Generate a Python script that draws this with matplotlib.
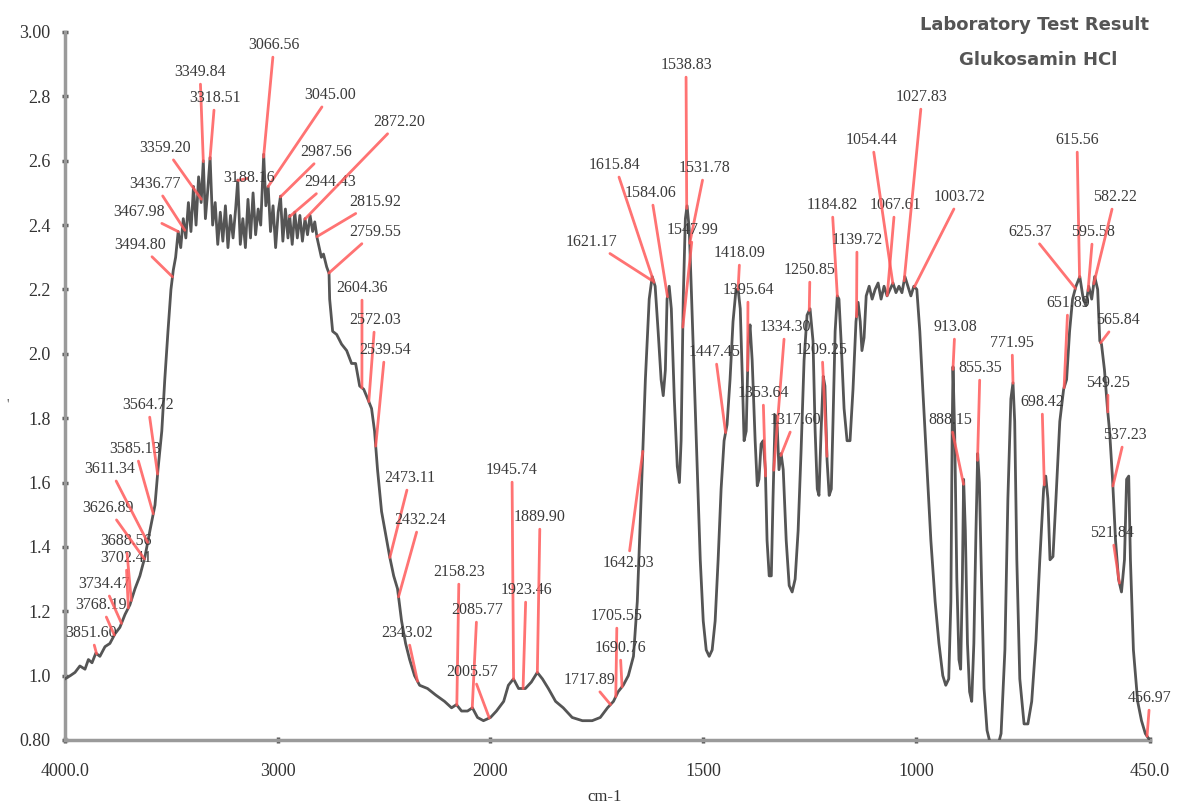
import numpy as np
import matplotlib
matplotlib.use("Agg")
import matplotlib.pyplot as plt

# IR spectrum of Glukosamin HCl
# region 4000 - 2760 cm-1 (O-H / N-H band, noisy plateau)
wn_high = [4000, 3975, 3953, 3930, 3906, 3890, 3873, 3855, 3836, 3812,
           3789, 3765, 3742, 3718, 3695, 3671, 3648, 3624, 3601, 3577,
           3563, 3545, 3531, 3516, 3502, 3491,
           3480, 3468, 3456, 3444, 3432, 3420, 3408, 3396, 3384, 3372,
           3360, 3350, 3340, 3330, 3318, 3306, 3294, 3282, 3270, 3258,
           3246, 3234, 3222, 3210, 3198, 3188, 3176, 3164, 3152, 3140,
           3128, 3116, 3104, 3092, 3080, 3066, 3056, 3045, 3034, 3022,
           3010, 2998, 2987, 2976, 2964, 2952, 2944, 2932, 2920, 2908,
           2896, 2884, 2872, 2860, 2848, 2836, 2826, 2815, 2805, 2795,
           2785, 2770, 2759]
ab_high = [0.99, 1.00, 1.01, 1.03, 1.02, 1.05, 1.04, 1.07, 1.06, 1.09,
           1.10, 1.13, 1.15, 1.19, 1.22, 1.27, 1.31, 1.37, 1.45, 1.53,
           1.64, 1.76, 1.92, 2.07, 2.20, 2.26,
           2.30, 2.38, 2.33, 2.42, 2.36, 2.47, 2.38, 2.52, 2.40, 2.55,
           2.47, 2.60, 2.42, 2.50, 2.61, 2.40, 2.47, 2.34, 2.44, 2.35,
           2.46, 2.33, 2.43, 2.36, 2.45, 2.54, 2.34, 2.42, 2.33, 2.48,
           2.36, 2.50, 2.37, 2.45, 2.40, 2.62, 2.46, 2.52, 2.38, 2.46,
           2.33, 2.44, 2.49, 2.35, 2.45, 2.36, 2.43, 2.34, 2.44, 2.36,
           2.43, 2.35, 2.42, 2.37, 2.43, 2.38, 2.41, 2.36, 2.33, 2.30,
           2.31, 2.27, 2.25]

# region 2760 - 1625 cm-1
wn_mid = [2756, 2742, 2723, 2700, 2676, 2653, 2634, 2615, 2596, 2577,
          2559, 2545, 2531, 2512, 2493, 2474, 2455, 2437, 2418, 2399,
          2380, 2357, 2333, 2296, 2258, 2216, 2183, 2160, 2136, 2108,
          2085, 2061, 2033, 2000, 1986, 1969, 1958, 1946, 1934, 1918,
          1904, 1890, 1878, 1864, 1847, 1829, 1808, 1784, 1761, 1742,
          1725, 1711, 1700, 1688, 1676, 1664, 1655, 1646, 1636, 1627]
ab_mid = [2.17, 2.07, 2.06, 2.03, 2.01, 1.97, 1.97, 1.90, 1.89, 1.86,
          1.83, 1.76, 1.64, 1.51, 1.44, 1.37, 1.31, 1.27, 1.17, 1.10,
          1.05, 1.00, 0.97, 0.96, 0.94, 0.92, 0.90, 0.91, 0.89, 0.89,
          0.90, 0.87, 0.86, 0.87, 0.89, 0.92, 0.97, 0.99, 0.96, 0.96,
          0.98, 1.01, 0.99, 0.96, 0.92, 0.90, 0.87, 0.86, 0.86, 0.87,
          0.90, 0.92, 0.95, 0.97, 1.00, 1.06, 1.23, 1.55, 1.92, 2.17]

# fingerprint region 1620 - 450 cm-1
wn_low = [1620, 1613, 1606, 1599, 1594, 1589, 1585, 1580, 1575, 1568,
          1561, 1556, 1552, 1547, 1542, 1538, 1533, 1528, 1521, 1514,
          1507, 1500, 1493, 1486, 1479, 1472, 1465, 1458, 1451, 1444,
          1437, 1430, 1423, 1418, 1413, 1408, 1404, 1399, 1394, 1390,
          1385, 1378, 1373, 1369, 1364, 1359, 1354, 1350, 1345, 1340,
          1336, 1331, 1326, 1322, 1317, 1312, 1305, 1298, 1291, 1284,
          1277, 1270, 1263, 1256, 1249, 1242, 1237, 1232, 1228, 1223,
          1218, 1214, 1209, 1204, 1199, 1195, 1190, 1185, 1181, 1176,
          1169, 1162, 1155, 1148, 1141, 1136, 1131, 1127, 1122, 1117,
          1110, 1103, 1096, 1089, 1082, 1075, 1068, 1061, 1054, 1047,
          1040, 1033, 1026, 1019, 1012, 1005, 998, 991, 984, 974,
          965, 955, 946, 937, 930, 923, 918, 915, 913, 909,
          904, 899, 895, 891, 888, 884, 879, 874, 869, 864,
          859, 855, 851, 846, 840, 833, 822, 810, 800, 791,
          784, 777, 772, 768, 763, 756, 746, 737, 728, 718,
          709, 700, 695, 690, 685, 678, 671, 662, 653, 646,
          639, 632, 624, 615, 608, 601, 594, 587, 580, 573,
          568, 564, 557, 550, 545, 538, 531, 524, 517, 510,
          505, 500, 496, 489, 479, 470, 461, 451]
ab_low = [2.24, 2.21, 2.07, 1.92, 1.87, 1.95, 2.17, 2.21, 2.14, 1.86,
          1.65, 1.60, 1.73, 2.17, 2.42, 2.46, 2.39, 2.20, 1.92, 1.64,
          1.36, 1.17, 1.08, 1.06, 1.08, 1.17, 1.36, 1.58, 1.73, 1.78,
          1.92, 2.10, 2.20, 2.20, 2.14, 1.92, 1.73, 1.76, 2.04, 2.09,
          1.98, 1.73, 1.59, 1.61, 1.72, 1.73, 1.64, 1.42, 1.31, 1.31,
          1.55, 1.81, 1.77, 1.64, 1.69, 1.64, 1.42, 1.28, 1.26, 1.30,
          1.45, 1.70, 1.98, 2.12, 2.14, 2.04, 1.76, 1.58, 1.56, 1.76,
          1.93, 1.90, 1.67, 1.56, 1.58, 1.79, 2.07, 2.18, 2.17, 2.04,
          1.83, 1.73, 1.73, 1.89, 2.10, 2.16, 2.10, 2.01, 2.05, 2.18,
          2.21, 2.17, 2.20, 2.22, 2.17, 2.21, 2.18, 2.20, 2.22, 2.19,
          2.21, 2.19, 2.24, 2.21, 2.18, 2.21, 2.20, 2.07, 1.89, 1.64,
          1.42, 1.23, 1.10, 1.00, 0.97, 0.99, 1.23, 1.75, 1.96, 1.75,
          1.30, 1.05, 1.02, 1.30, 1.61, 1.45, 1.10, 0.95, 0.92, 1.10,
          1.45, 1.69, 1.60, 1.30, 0.96, 0.83, 0.77, 0.77, 0.82, 1.08,
          1.55, 1.86, 1.91, 1.79, 1.36, 0.99, 0.85, 0.85, 0.92, 1.11,
          1.36, 1.58, 1.62, 1.55, 1.36, 1.37, 1.55, 1.79, 1.89, 1.92,
          2.07, 2.17, 2.21, 2.24, 2.18, 2.15, 2.21, 2.17, 2.24, 2.20,
          2.04, 2.03, 1.95, 1.83, 1.76, 1.61, 1.42, 1.30, 1.26, 1.36,
          1.61, 1.62, 1.36, 1.08, 0.92, 0.86, 0.82, 0.80]

# peak labels (wavenumbers) and where their text sits (pixels from top-left)
peak_labels = ["3851.60", "3768.19", "3734.47", "3702.41", "3688.56",
               "3626.89", "3611.34", "3585.13", "3564.72", "3494.80",
               "3467.98", "3436.77", "3359.20", "3349.84", "3318.51",
               "3066.56", "3045.00", "3188.16", "2987.56", "2944.43",
               "2872.20", "2815.92", "2759.55", "2604.36", "2572.03",
               "2539.54", "2473.11", "2432.24", "2343.02", "2158.23",
               "2085.77", "2005.57", "1945.74", "1923.46", "1889.90",
               "1705.55", "1690.76", "1717.89", "1642.03", "1621.17",
               "1615.84", "1584.06", "1538.83", "1531.78", "1547.99",
               "1418.09", "1395.64", "1447.45", "1334.30", "1353.64",
               "1317.60", "1250.85", "1209.25", "1184.82", "1139.72",
               "1067.61", "1054.44", "1027.83", "1003.72", "913.08",
               "855.35", "888.15", "771.95", "698.42", "651.89",
               "625.37", "615.56", "595.58", "582.22", "565.84",
               "549.25", "537.23", "521.84", "456.97"]
label_px = [91, 101, 104, 126, 126, 108, 110, 135, 148, 140,
            139, 155, 165, 200, 215, 274, 330, 249, 326, 330,
            399, 375, 375, 362, 375, 385, 410, 420, 407, 459,
            477, 472, 512, 526, 540, 617, 620, 590, 628, 592,
            615, 651, 686, 705, 693, 740, 748, 715, 785, 763,
            795, 810, 822, 832, 857, 895, 872, 922, 960, 955,
            980, 950, 1012, 1042, 1068, 1030, 1077, 1093, 1115, 1118,
            1108, 1125, 1112, 1150]
label_py = [633, 605, 584, 558, 541, 508, 469, 449, 405, 245,
            212, 184, 148, 72, 98, 45, 95, 178, 152, 182,
            122, 202, 232, 288, 320, 350, 478, 520, 633, 572,
            610, 672, 470, 590, 517, 616, 648, 680, 563, 242,
            165, 193, 65, 168, 230, 253, 290, 352, 327, 393,
            420, 270, 350, 205, 240, 205, 140, 97, 197, 327,
            368, 420, 343, 402, 303, 232, 140, 232, 197, 320,
            383, 435, 533, 698]

x_ticks = [4000, 3000, 2000, 1500, 1000, 450]
x_tick_labels = ["4000.0", "3000", "2000", "1500", "1000", "450.0"]
y_ticks = [0.8, 1.0, 1.2, 1.4, 1.6, 1.8, 2.0, 2.2, 2.4, 2.6, 2.8, 3.0]
y_tick_labels = ["0.80", "1.0", "1.2", "1.4", "1.6", "1.8", "2.0",
                 "2.2", "2.4", "2.6", "2.8", "3.00"]

W, H = 1182, 810
SERIF = "Liberation Serif"


def forward(w):
    # above 2000 cm-1 the axis is compressed by a factor 2
    w = np.asarray(w, dtype=float)
    return np.where(w <= 2000, w, 2000 + (w - 2000) * 0.5)


def inverse(u):
    u = np.asarray(u, dtype=float)
    return np.where(u <= 2000, u, 2000 + (u - 2000) * 2.0)


wn = np.array(wn_high + wn_mid + wn_low, dtype=float)
ab = np.array(ab_high + ab_mid + ab_low, dtype=float)

fig = plt.figure(figsize=(W / 100, H / 100), dpi=100)
ax = fig.add_axes([65 / W, 70 / H, 1085 / W, 708 / H])
ax.set_xscale("function", functions=(forward, inverse))
ax.set_xlim(4000, 450)
ax.set_ylim(0.8, 3.0)

ax.plot(wn, ab, color="#555555", lw=2.0, zorder=3)

# leader lines + labels
order = np.argsort(wn)
for lab, px, py in zip(peak_labels, label_px, label_py):
    target = float(lab)
    yv = np.interp(target, wn[order], ab[order])
    ax.annotate(lab, xy=(target, yv), xytext=(px, H - py),
                textcoords="figure pixels", ha="center", va="center",
                fontsize=11.5, family=SERIF, color="#3a3a3a", zorder=4,
                annotation_clip=False,
                arrowprops=dict(arrowstyle="-", color="#ff5a5a", lw=2.0,
                                alpha=0.85, shrinkA=1, shrinkB=0))

ax.set_xticks(x_ticks)
ax.set_xticklabels(x_tick_labels)
ax.set_yticks(y_ticks)
ax.set_yticklabels(y_tick_labels)
ax.minorticks_off()
for lbl in ax.get_xticklabels() + ax.get_yticklabels():
    lbl.set_family(SERIF)
ax.tick_params(axis="both", direction="inout", length=5, width=2.5,
               color="#555555", labelsize=13, labelcolor="#333333")
ax.tick_params(axis="x", pad=14)
ax.tick_params(axis="y", pad=8)

for side in ("top", "right"):
    ax.spines[side].set_visible(False)
for side in ("left", "bottom"):
    ax.spines[side].set_color("#9a9a9a")
    ax.spines[side].set_linewidth(2.5)

fig.text(605 / W, 1 - 797 / H, "cm-1", ha="center", va="center",
         fontsize=12, family=SERIF, color="#333333")
fig.text(8 / W, 1 - 405 / H, "'", ha="center", va="center",
         fontsize=10, family=SERIF, color="#555555")

fig.text(1035 / W, 1 - 25 / H, "Laboratory Test Result", ha="center",
         va="center", fontsize=13, fontweight="bold", color="#555555",
         family="DejaVu Sans")
fig.text(1038 / W, 1 - 60 / H, "Glukosamin HCl", ha="center",
         va="center", fontsize=13, fontweight="bold", color="#555555",
         family="DejaVu Sans")

fig.savefig("out.png", dpi=100)
